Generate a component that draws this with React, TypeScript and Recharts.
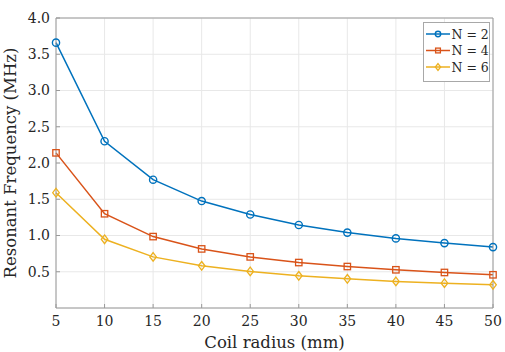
import React from 'react';
import { LineChart, Line, XAxis, YAxis, CartesianGrid } from 'recharts';

const radius = [5, 10, 15, 20, 25, 30, 35, 40, 45, 50];
const n2 = [3.66, 2.3, 1.77, 1.475, 1.29, 1.145, 1.04, 0.96, 0.895, 0.84];
const n4 = [2.14, 1.3, 0.985, 0.815, 0.705, 0.627, 0.572, 0.527, 0.49, 0.458];
const n6 = [1.59, 0.948, 0.705, 0.582, 0.504, 0.444, 0.403, 0.366, 0.343, 0.32];
const xTicks = [5, 10, 15, 20, 25, 30, 35, 40, 45, 50];
const yTicks = [0.5, 1.0, 1.5, 2.0, 2.5, 3.0, 3.5, 4.0];
const seriesNames = ['N = 2', 'N = 4', 'N = 6'];

const data = radius.map((r, i) => ({ r, n2: n2[i], n4: n4[i], n6: n6[i] }));

const BLUE = '#0072BD';
const RED = '#D95319';
const YELLOW = '#EDB120';
const FONT = 'DejaVu Serif';
const TEXT = '#262626';
const AXIS = '#9a9a9a';

const Circle = (props: any) => {
  const { cx, cy, stroke, s = 1 } = props;
  if (cx == null || cy == null) return null;
  return <circle cx={cx} cy={cy} r={3.6 * s} fill="none" stroke={stroke} strokeWidth={1.4} />;
};
const Square = (props: any) => {
  const { cx, cy, stroke, s = 1 } = props;
  if (cx == null || cy == null) return null;
  const h = 3.2 * s;
  return <rect x={cx - h} y={cy - h} width={2 * h} height={2 * h} fill="none" stroke={stroke} strokeWidth={1.3} />;
};
const Diamond = (props: any) => {
  const { cx, cy, stroke, s = 1 } = props;
  if (cx == null || cy == null) return null;
  const a = 4.3 * s;
  const b = 3.3 * s;
  return (
    <path
      d={`M${cx},${cy - a} L${cx + b},${cy} L${cx},${cy + a} L${cx - b},${cy} Z`}
      fill="none"
      stroke={stroke}
      strokeWidth={1.3}
    />
  );
};

const LegendBox = () => {
  const items = [
    { name: seriesNames[0], color: BLUE, shape: 'c' },
    { name: seriesNames[1], color: RED, shape: 's' },
    { name: seriesNames[2], color: YELLOW, shape: 'd' },
  ];
  return (
    <svg width={67} height={60} style={{ position: 'absolute', left: 423, top: 22 }}>
      <rect x={0.5} y={0.5} width={66} height={59} fill="#fff" stroke="#a8a8a8" strokeWidth={1} />
      {items.map((it, i) => {
        const y = 12 + i * 16.5;
        const mx = 15;
        return (
          <g key={it.name}>
            <line x1={3} x2={27} y1={y} y2={y} stroke={it.color} strokeWidth={1.5} />
            {it.shape === 'c' && <Circle cx={mx} cy={y} stroke={it.color} s={0.75} />}
            {it.shape === 's' && <Square cx={mx} cy={y} stroke={it.color} s={0.75} />}
            {it.shape === 'd' && <Diamond cx={mx} cy={y} stroke={it.color} s={0.8} />}
            <text x={28.5} y={y + 4.5} fontSize={12.5} style={{ fontFamily: FONT }} fill={TEXT}>
              {it.name}
            </text>
          </g>
        );
      })}
    </svg>
  );
};

export default function App() {
  return (
    <div style={{ position: 'absolute', left: 0, top: 0, width: 505, height: 352, background: '#fff' }}>
      <LineChart width={505} height={352} data={data} margin={{ top: 17, right: 11, bottom: 0, left: 0 }}>
        <CartesianGrid stroke="#e8e8e8" strokeWidth={1} vertical horizontal />
        <XAxis
          dataKey="r"
          type="number"
          domain={[5, 50]}
          ticks={xTicks}
          height={44}
          tickSize={-4}
          tickMargin={12}
          tickLine={{ stroke: AXIS }}
          axisLine={{ stroke: AXIS }}
          tick={{ fontSize: 14, fill: TEXT, style: { fontFamily: FONT } }}
          label={{ value: 'Coil radius (mm)', position: 'insideBottom', offset: 4, fontSize: 16.5, fill: TEXT, style: { fontFamily: FONT } }}
        />
        <XAxis xAxisId="top" orientation="top" type="number" domain={[5, 50]} ticks={xTicks} height={1} tick={false} axisLine={{ stroke: AXIS }} />
        <YAxis
          type="number"
          domain={[0, 4]}
          ticks={yTicks}
          width={56}
          tickSize={-4}
          tickMargin={10}
          tickLine={{ stroke: AXIS }}
          axisLine={{ stroke: AXIS }}
          tickFormatter={(v: number) => v.toFixed(1)}
          tick={{ fontSize: 14, fill: TEXT, style: { fontFamily: FONT } }}
          label={{ value: 'Resonant Frequency (MHz)', angle: -90, position: 'insideLeft', offset: 10, fontSize: 16.5, fill: TEXT, style: { textAnchor: 'middle', fontFamily: FONT } }}
        />
        <YAxis yAxisId="right" orientation="right" type="number" domain={[0, 4]} ticks={yTicks} width={1} tick={false} axisLine={{ stroke: AXIS }} />
        <Line dataKey="n2" name={seriesNames[0]} stroke={BLUE} strokeWidth={1.5} dot={<Circle />} activeDot={false} isAnimationActive={false} />
        <Line dataKey="n4" name={seriesNames[1]} stroke={RED} strokeWidth={1.5} dot={<Square />} activeDot={false} isAnimationActive={false} />
        <Line dataKey="n6" name={seriesNames[2]} stroke={YELLOW} strokeWidth={1.5} dot={<Diamond />} activeDot={false} isAnimationActive={false} />
      </LineChart>
      <LegendBox />
    </div>
  );
}
